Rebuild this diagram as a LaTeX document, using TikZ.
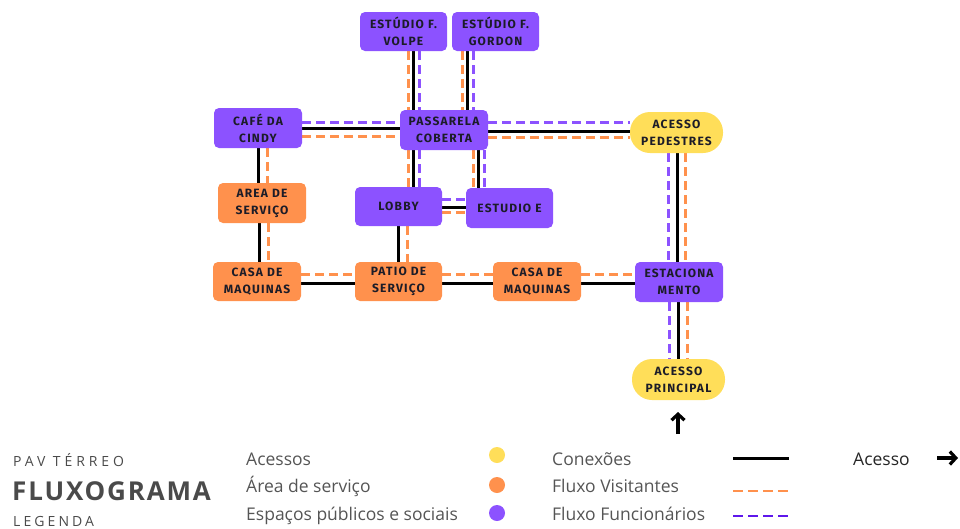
\documentclass[tikz,border=0pt]{standalone}
\usepackage{fontspec}
\setmainfont{Open Sans}
\newfontfamily\nodefont[LetterSpace=10]{Fira Sans}
\usetikzlibrary{backgrounds,arrows.meta}
\definecolor{vpurple}{HTML}{8C52FF}
\definecolor{vorange}{HTML}{FF914D}
\definecolor{vyellow}{HTML}{FFDE59}
\definecolor{lpurple}{HTML}{5E17EB}
\definecolor{ltext}{HTML}{555555}
\definecolor{htext}{HTML}{4A4A4A}
\definecolor{ntext}{HTML}{1C1C28}
\newcommand\vlnk[4]{\draw[#1] ([xshift=#4pt]#2.south) -- ([xshift=#4pt]#2.south |- #3.north);}
\newcommand\hlnk[4]{\draw[#1] ([yshift=#4pt]#2.east) -- ([yshift=#4pt]#2.east -| #3.west);}
\begin{document}
\begin{tikzpicture}[x=1pt,y=-1pt,
  box/.style={rounded corners=5pt, inner sep=0pt, align=center, text=ntext,
    font=\nodefont\bfseries\fontsize{12}{17}\selectfont, minimum width=88pt, minimum height=40pt},
  pbox/.style={box, fill=vpurple},
  obox/.style={box, fill=vorange},
  ybox/.style={box, fill=vyellow, rounded corners=20pt, minimum width=93pt, minimum height=41pt},
  conn/.style={line width=3pt, draw=black},
  vis/.style={line width=3pt, draw=vorange, dash pattern=on 9pt off 5pt},
  func/.style={line width=3pt, draw=vpurple, dash pattern=on 9pt off 5pt},
  ltxt/.style={anchor=base west, inner sep=0pt, text=ltext, font=\fontsize{17.5}{20}\selectfont},
  dot/.style={circle, inner sep=0pt, minimum size=16pt},
  arr/.style={line width=3.2pt, -{Straight Barb[length=6pt,width=13pt,line width=3.2pt]}}
]
\useasboundingbox (0,0) rectangle (960,528);

% nodes
\node[pbox, minimum width=87pt, minimum height=39pt] (volpe) at (403.5,31.5) {ESTÚDIO F.\\VOLPE};
\node[pbox, minimum width=87pt, minimum height=39pt] (gordon) at (495.5,31.5) {ESTÚDIO F.\\GORDON};
\node[pbox] (passarela) at (444,130) {PASSARELA\\COBERTA};
\node[pbox] (cafe) at (258,128) {CAFÉ DA\\CINDY};
\node[ybox] (pedestres) at (676.5,132.5) {ACESSO\\PEDESTRES};
\node[obox] (area) at (262,203) {AREA DE\\SERVIÇO};
\node[pbox, minimum width=87pt, minimum height=39pt] (lobby) at (398.5,206.5) {LOBBY};
\node[pbox, minimum width=87pt] (estudioe) at (509.5,208) {ESTUDIO E};
\node[obox, minimum height=39pt] (casa1) at (257,281.5) {CASA DE\\MAQUINAS};
\node[obox, minimum width=87pt, minimum height=39pt] (patio) at (398.5,281.5) {PATIO DE\\SERVIÇO};
\node[obox, minimum height=39pt] (casa2) at (537,281.5) {CASA DE\\MAQUINAS};
\node[pbox] (estac) at (679,282) {ESTACIONA\\MENTO};
\node[ybox] (principal) at (678.5,379.5) {ACESSO\\PRINCIPAL};

\begin{pgfonlayer}{background}
% vertical links
\vlnk{vis}{volpe}{passarela}{4.5}
\vlnk{conn}{volpe}{passarela}{9.5}
\vlnk{func}{volpe}{passarela}{15.5}
\vlnk{vis}{gordon}{passarela}{-33.5}
\vlnk{conn}{gordon}{passarela}{-28.5}
\vlnk{func}{gordon}{passarela}{-22.5}
\vlnk{vis}{passarela}{lobby}{-36}
\vlnk{conn}{passarela}{lobby}{-31}
\vlnk{func}{passarela}{lobby}{-25}
\vlnk{vis}{passarela}{estudioe}{29}
\vlnk{conn}{passarela}{estudioe}{34}
\vlnk{func}{passarela}{estudioe}{40}
\vlnk{conn}{cafe}{area}{0}
\vlnk{vis}{cafe}{area}{9}
\vlnk{conn}{area}{casa1}{-3}
\vlnk{vis}{area}{casa1}{6}
\vlnk{conn}{lobby}{patio}{-0.5}
\vlnk{vis}{lobby}{patio}{8.5}
\vlnk{func}{pedestres}{estac}{-8.5}
\vlnk{conn}{pedestres}{estac}{0.5}
\vlnk{vis}{pedestres}{estac}{8.5}
\vlnk{func}{estac}{principal}{-10}
\vlnk{conn}{estac}{principal}{-1}
\vlnk{vis}{estac}{principal}{8}
% horizontal links
\hlnk{func}{cafe}{passarela}{6}
\hlnk{conn}{cafe}{passarela}{0}
\hlnk{vis}{cafe}{passarela}{-8}
\hlnk{func}{passarela}{pedestres}{8}
\hlnk{conn}{passarela}{pedestres}{-1}
\hlnk{vis}{passarela}{pedestres}{-7}
\hlnk{func}{lobby}{estudioe}{7.5}
\hlnk{conn}{lobby}{estudioe}{-0.5}
\hlnk{vis}{lobby}{estudioe}{-5.5}
\hlnk{vis}{casa1}{patio}{7.5}
\hlnk{conn}{casa1}{patio}{-1.5}
\hlnk{vis}{patio}{casa2}{7.5}
\hlnk{conn}{patio}{casa2}{-1.5}
\hlnk{vis}{casa2}{estac}{7.5}
\hlnk{conn}{casa2}{estac}{-1.5}
\end{pgfonlayer}

% entrance arrow
\coordinate (inA) at (678,434);
\coordinate (inB) at (678,412);
\draw[arr] (inA) -- (inB);

% titles
\node[anchor=base west, inner sep=0pt, text=htext, font=\fontsize{14}{16}\selectfont\addfontfeatures{LetterSpace=28}] (pav) at (13,466) {PAV TÉRREO};
\node[anchor=base west, inner sep=0pt, text=htext, font=\bfseries\fontsize{26}{30}\selectfont\addfontfeatures{LetterSpace=7}] (flux) at (12,500) {FLUXOGRAMA};
\node[anchor=base west, inner sep=0pt, text=htext, font=\fontsize{14}{16}\selectfont\addfontfeatures{LetterSpace=22}] (leg) at (13,526) {LEGENDA};

% legend column 1
\node[ltxt] (tAcessos) at (246,465) {Acessos};
\node[ltxt] (tArea) at (246,492) {Área de serviço};
\node[ltxt] (tEsp) at (246,520) {Espaços públicos e sociais};
\node[dot, fill=vyellow] (dY) at (497,455) {};
\node[dot, fill=vorange] (dO) at (497,485) {};
\node[dot, fill=vpurple] (dP) at (497,513) {};

% legend column 2
\node[ltxt] (tCon) at (552,465) {Conexões};
\node[ltxt] (tVis) at (552,492) {Fluxo Visitantes};
\node[ltxt] (tFun) at (552,520) {Fluxo Funcionários};
\coordinate (lc1) at (733,458); \coordinate (lc2) at (789,458);
\coordinate (lv1) at (733,491); \coordinate (lv2) at (789,491);
\coordinate (lf1) at (733,516); \coordinate (lf2) at (789,516);
\draw[line width=3pt] (lc1) -- (lc2);
\draw[line width=2.5pt, vorange, dash pattern=on 10pt off 5pt] (lv1) -- (lv2);
\draw[line width=2.5pt, lpurple, dash pattern=on 10pt off 5pt] (lf1) -- (lf2);

% legend access arrow
\node[ltxt, text=black!85] (tAcesso) at (853,465) {Acesso};
\coordinate (la1) at (937,458); \coordinate (la2) at (958,458);
\draw[arr] (la1) -- (la2);
\end{tikzpicture}
\end{document}
